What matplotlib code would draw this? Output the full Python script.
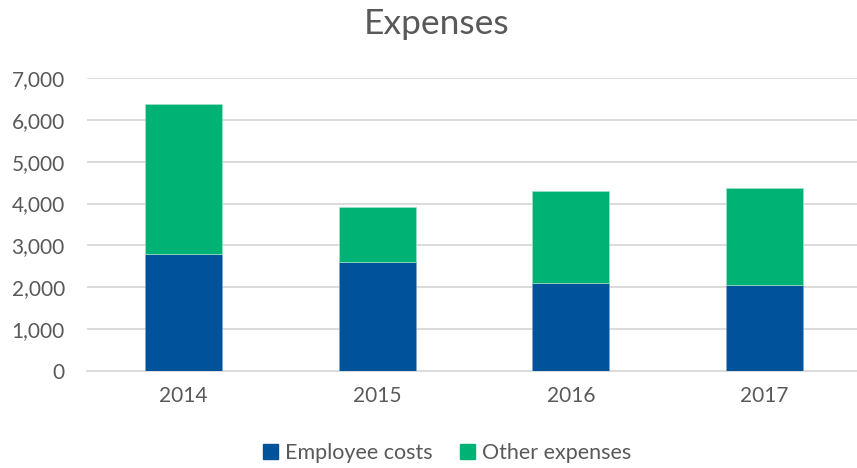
import matplotlib
matplotlib.use("Agg")
import matplotlib.pyplot as plt
from matplotlib.ticker import FuncFormatter
from matplotlib.patches import Patch
import numpy as np

years = ["2014", "2015", "2016", "2017"]
employee_costs = [2790, 2615, 2110, 2065]
other_expenses = [3600, 1305, 2200, 2305]

plt.rcParams['font.family'] = ['Lato', 'DejaVu Sans']
gray = "#595959"
blue = "#00529B"
green = "#00B274"

fig = plt.figure(figsize=(8.57, 4.68), dpi=100)
ax = fig.add_axes([87/857, 1-371/468, (861-87)/857, (371-78)/468])

x = np.arange(len(years))
ax.bar(x, employee_costs, width=0.4, color=blue, edgecolor="#7fa6cc", linewidth=0.5, zorder=3)
ax.bar(x, other_expenses, bottom=employee_costs, width=0.4, color=green, edgecolor="#a0e0c8", linewidth=0.5, zorder=3)

ax.set_xlim(-0.5, len(years) - 0.5)
ax.set_ylim(0, 7000)
ax.set_yticks(range(0, 7001, 1000))
ax.yaxis.set_major_formatter(FuncFormatter(lambda v, p: f"{int(v):,}"))
ax.set_xticks(x)
ax.set_xticklabels(years)
ax.grid(axis="y", color="#d9d9d9", linewidth=1.3, zorder=0)
for s in ["top", "right", "left"]:
    ax.spines[s].set_visible(False)
ax.spines["bottom"].set_color("#d9d9d9")
ax.spines["bottom"].set_linewidth(1.3)
ax.tick_params(axis="both", length=0, colors=gray, labelsize=15)
ax.tick_params(axis="y", pad=16)
ax.tick_params(axis="x", pad=11)

fig.text(437/857, 1-24/468, "Expenses", ha="center", va="center", fontsize=25.5, color=gray)

handles = [Patch(color=blue, label="Employee costs"), Patch(color=green, label="Other expenses")]
fig.legend(handles=handles, loc="center", bbox_to_anchor=(447/857, 1-453/468), ncol=2, frameon=False,
           fontsize=15.5, labelcolor=gray, handlelength=0.7, handleheight=0.7, handletextpad=0.3,
           columnspacing=1.3)

fig.savefig("out.png", dpi=100)
